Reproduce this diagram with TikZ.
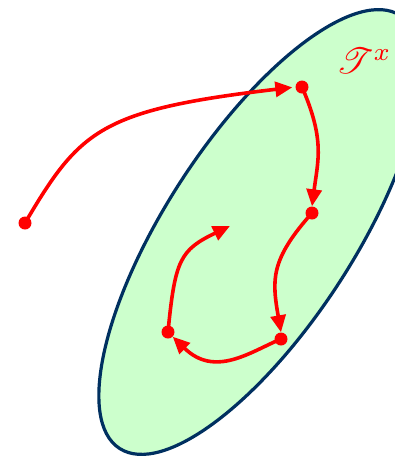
\documentclass[tikz,border=0pt]{standalone}
\usepackage{mathrsfs}
\usepackage{graphicx}
\usetikzlibrary{arrows.meta}
\definecolor{setfill}{RGB}{204,255,204}
\definecolor{setline}{RGB}{0,48,96}
\begin{document}
\begin{tikzpicture}[x=1pt,y=-1pt,
  dot/.style={circle,fill=red,inner sep=0pt,minimum size=13pt},
  path/.style={red,line width=3.6pt,-{Triangle[length=17pt,width=15pt]}},
  ]
\useasboundingbox (0,0) rectangle (395,459);
\begin{scope}
\clip (0,0) rectangle (395,459);
\draw[setline,line width=3.2pt,fill=setfill] (260,232) ellipse[x radius=258,y radius=94,rotate=57];
\end{scope}
\node[red,inner sep=0pt] (lbl) at (364,61) {\scalebox{3.6}{$\mathscr{T}^{x}$}};
\node[dot] (s) at (25,223) {};
\node[dot] (a) at (302,87) {};
\node[dot] (b) at (312,213) {};
\node[dot] (c) at (281,339) {};
\node[dot] (d) at (168,332) {};
\coordinate (e) at (230,226);
\draw[path,shorten >=3pt] (s.center) .. controls (80,130) and (100,110) .. (a.west);
\draw[path] (a.center) .. controls (325,140) and (318,160) .. (b.north);
\draw[path] (b.center) .. controls (270,260) and (272,280) .. (c.north);
\draw[path] (c.center) .. controls (250,352) and (215,378) .. (d.south east);
\draw[path] (d.center) .. controls (175,260) and (180,250) .. (e);
\end{tikzpicture}
\end{document}
